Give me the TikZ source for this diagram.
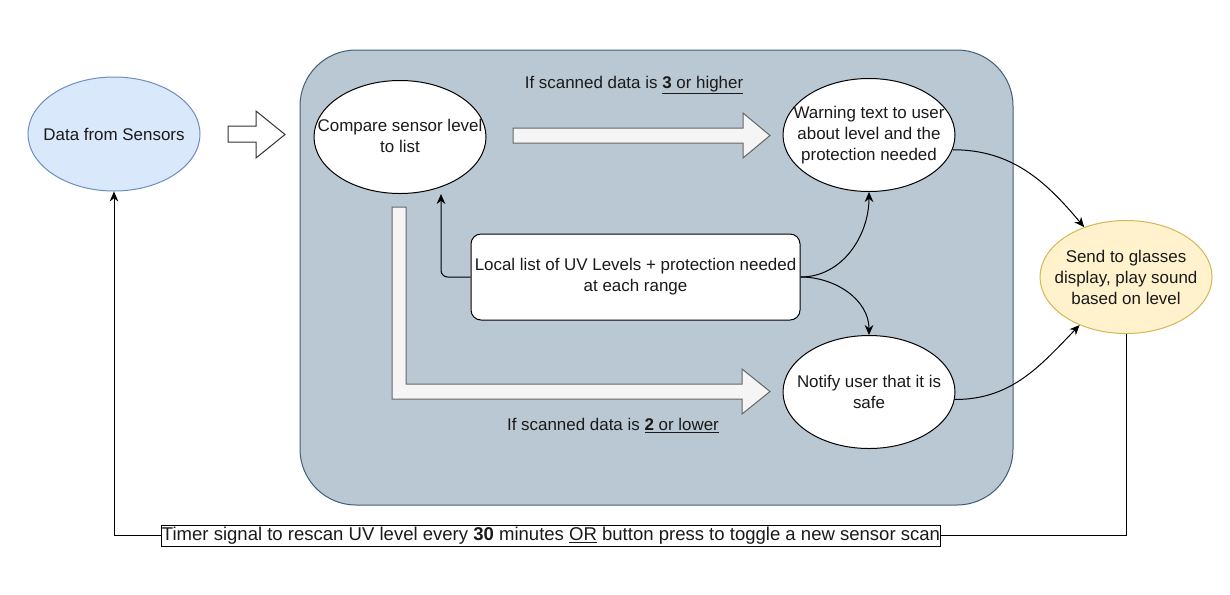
\documentclass[tikz,border=0pt]{standalone}
\usepackage{fontspec}
\setmainfont{Liberation Sans}
\usetikzlibrary{shapes.geometric,arrows.meta,calc}
\definecolor{grpfill}{HTML}{BAC8D3}
\definecolor{grpdraw}{HTML}{3F5E7A}
\definecolor{bluefill}{HTML}{DAE8FC}
\definecolor{bluedraw}{HTML}{6C8EBF}
\definecolor{yelfill}{HTML}{FFF2CC}
\definecolor{yeldraw}{HTML}{D6B656}
\definecolor{fatfill}{HTML}{F5F5F5}
\definecolor{fatdraw}{HTML}{666666}
\definecolor{txtcol}{HTML}{1A1A1A}
\begin{document}
\begin{tikzpicture}[x=0.75pt,y=-0.75pt,
  txt/.style={font=\fontsize{12.7}{15.75}\selectfont, align=center, inner sep=0pt, text=txtcol},
  oval/.style={ellipse, draw=black, fill=white, line width=0.75pt, minimum width=129pt, minimum height=84.75pt, inner sep=0pt},
  conn/.style={draw=black, line width=0.75pt, -{Stealth[length=7.5pt,width=6.5pt]}},
  fat/.style={draw=fatdraw, fill=fatfill, line width=0.75pt, line join=miter},
  hollow/.style={draw=black!80, fill=white, line width=0.75pt, line join=miter},
  listbox/.style={draw=black, fill=white, line width=0.75pt, rounded corners=7.5pt, minimum width=246.75pt, minimum height=64.5pt},
  timerbox/.style={draw=black, fill=white, line width=0.75pt, inner xsep=0.5pt, inner ysep=0pt, minimum height=15.75pt, font=\fontsize{13.9}{15.75}\selectfont},
]
\useasboundingbox (0,0) rectangle (1230,594);
\fill[white] (0,0) rectangle (1230,594);

% group container
\draw[grpdraw, fill=grpfill, line width=0.75pt, rounded corners=42pt] (300,50) rectangle (1013,505);

% hollow arrow from data to group
\draw[hollow] (228,126) -- (256,126) -- (256,111) -- (285,134.5) -- (256,158) -- (256,142) -- (228,142) -- cycle;

% fat arrows
\draw[fat] (513,128) -- (743,128) -- (743,113) -- (770,135.5) -- (743,158) -- (743,143) -- (513,143) -- cycle;
\draw[fat] (392,207) -- (406,207) -- (406,384) -- (742,384) -- (742,369) -- (770,391.5) -- (742,414) -- (742,399) -- (392,399) -- cycle;

% nodes
\node[oval, draw=bluedraw, fill=bluefill, minimum height=85.5pt] (data) at (114,134) {};
\node[txt] (datat) at (data) {Data from Sensors};

\node[oval] (cmp) at (400,137) {};
\node[txt] (cmpt) at ($(cmp)+(0,-1.5)$) {Compare sensor level\\to list};

\node[oval] (warn) at (869,135) {};
\node[txt] (warnt) at (warn) {Warning text to user\\about level and the\\protection needed};

\node[oval] (notify) at (869,392) {};
\node[txt] (notifyt) at (notify) {Notify user that it is\\safe};

\node[oval, draw=yeldraw, fill=yelfill] (send) at (1126,277) {};
\node[txt] (sendt) at (send) {Send to glasses\\display, play sound\\based on level};

\node[listbox, txt] (list) at (635.5,277) {Local list of UV Levels + protection needed\\at each range};

% labels
\node[txt] (lblhi) at (634,85) {If scanned data is \underline{\textbf{3} or higher}};
\node[txt] (lbllo) at (613,426) {If scanned data is \underline{\textbf{2} or lower}};

% connectors
\draw[conn, rounded corners=5pt] (list.west) -| ($(cmp.south)+(41,0)$);
\draw[conn] (list.east) to[out=0, in=-90] (warn.south);
\draw[conn] (list.east) to[out=0, in=90] (notify.north);
\draw[conn] (warn.-10) to[out=0, in=130] (send.130);
\draw[conn] (notify.-5) to[out=0, in=226] (send.226);

% feedback loop
\node[txt, timerbox] (timer) at (551,535.5) {Timer signal to rescan UV level every \textbf{30} minutes \underline{OR} button press to toggle a new sensor scan};
\draw[line width=0.75pt] (send.south) |- (timer.east);
\draw[conn] (timer.west) -| (data.south);
\end{tikzpicture}
\end{document}
